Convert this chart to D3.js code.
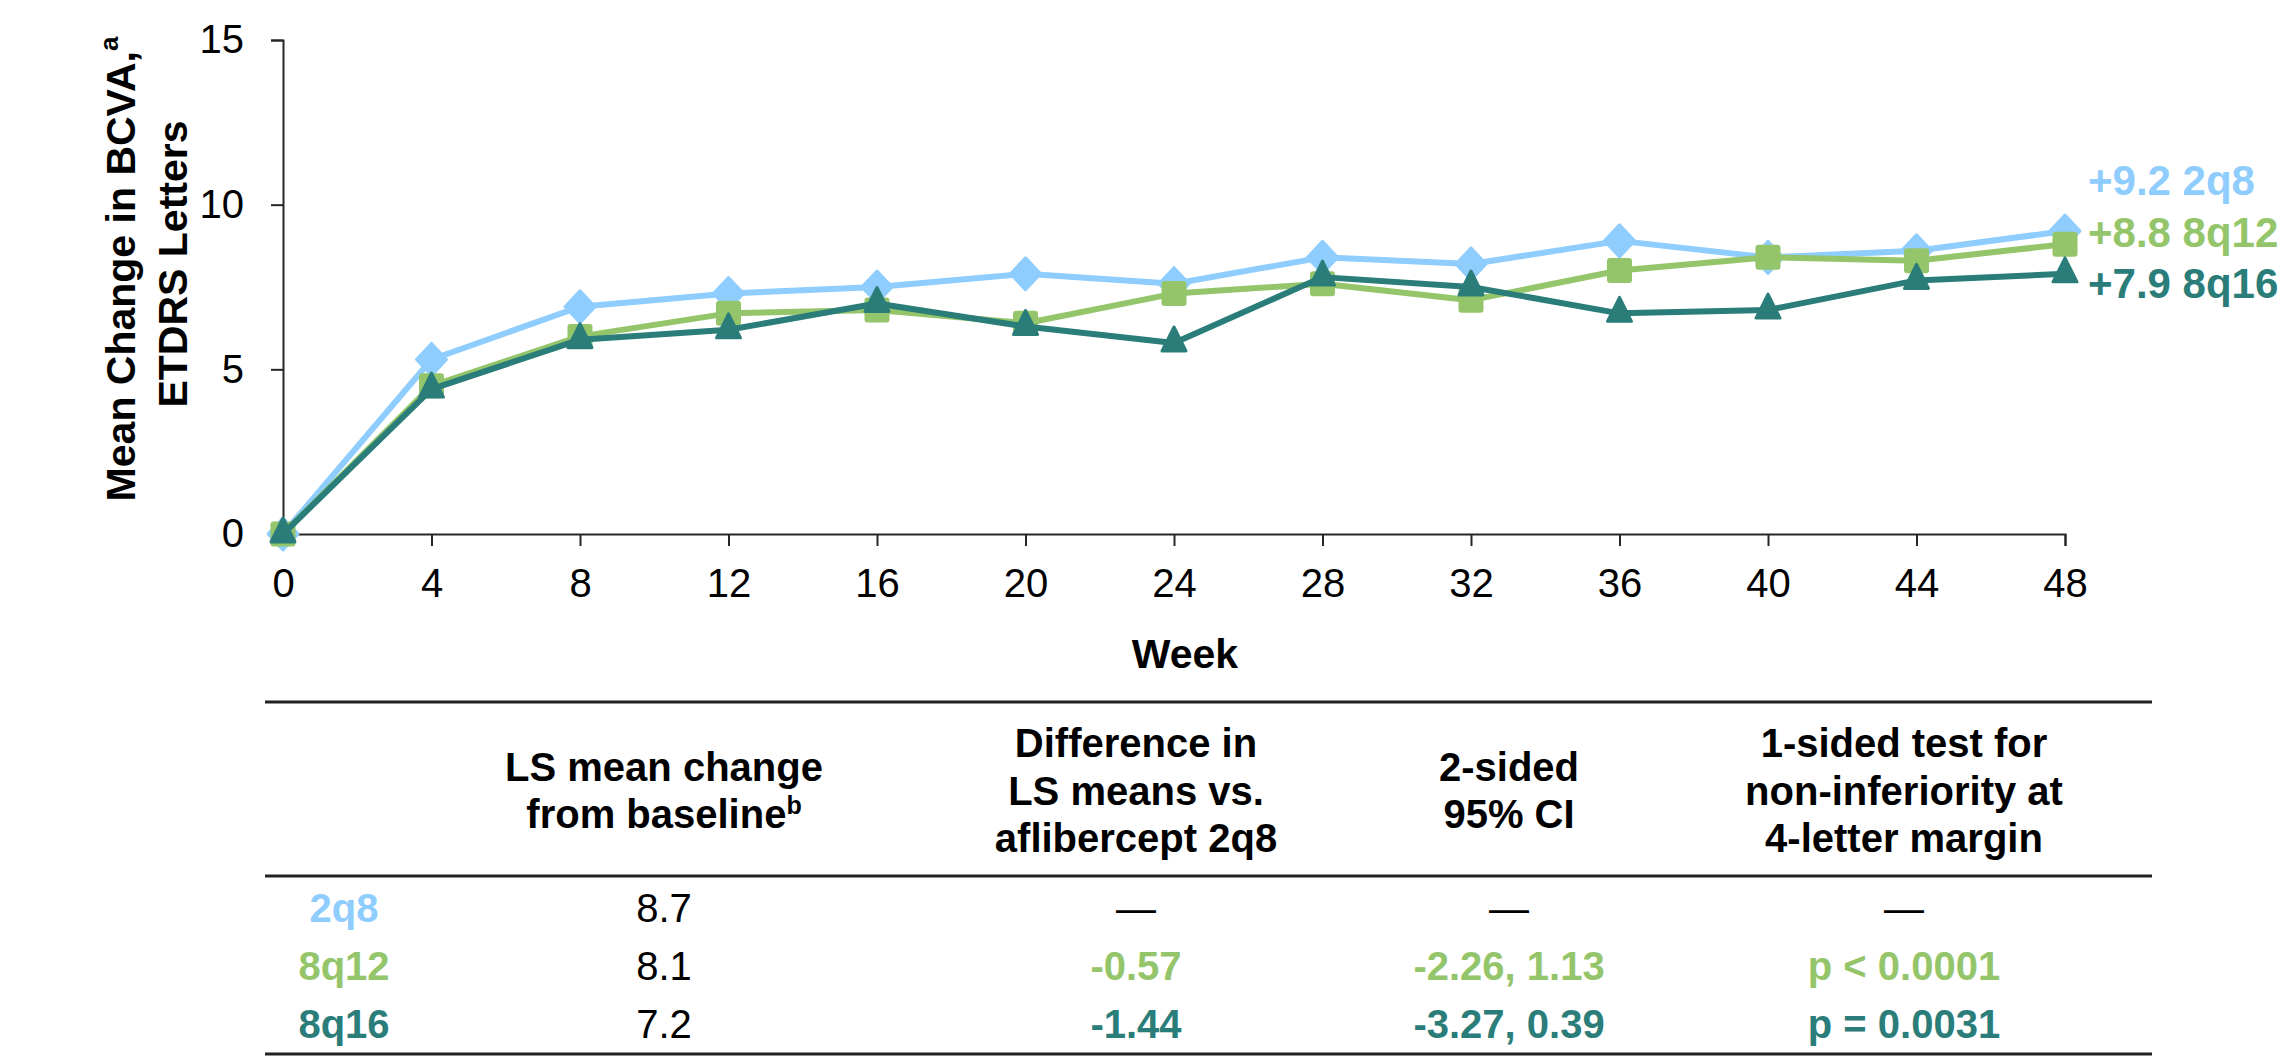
<!DOCTYPE html>
<html>
<head>
<meta charset="utf-8">
<script src="https://cdn.jsdelivr.net/npm/d3@7"></script>
<style>
  body { margin: 0; background: #ffffff; }
  svg { display: block; font-family: "Liberation Sans", Arial, Helvetica, sans-serif; }
</style>
</head>
<body>
<svg id="chart" width="2283" height="1063"></svg>
<script>
// ---- data ----
const weeks = [0, 4, 8, 12, 16, 20, 24, 28, 32, 36, 40, 44, 48];
const seriesNames = ["2q8", "8q12", "8q16"];
const values2q8  = [0, 5.3, 6.9, 7.3, 7.5, 7.9, 7.6, 8.4, 8.2, 8.9, 8.4, 8.6, 9.2];
const values8q12 = [0, 4.5, 6.0, 6.7, 6.8, 6.4, 7.3, 7.6, 7.1, 8.0, 8.4, 8.3, 8.8];
const values8q16 = [0, 4.4, 5.9, 6.2, 7.0, 6.3, 5.8, 7.8, 7.5, 6.7, 6.8, 7.7, 7.9];
const xTicks = [0, 4, 8, 12, 16, 20, 24, 28, 32, 36, 40, 44, 48];
const yTicks = [0, 5, 10, 15];

const tableRowLabels = ["2q8", "8q12", "8q16"];
const lsMeanChange   = ["8.7", "8.1", "7.2"];
const diffVs2q8      = ["\u2014", "-0.57", "-1.44"];
const ci95           = ["\u2014", "-2.26, 1.13", "-3.27, 0.39"];
const nonInferiority = ["\u2014", "p < 0.0001", "p = 0.0031"];

// ---- styling ----
const colors = { "2q8": "#8ecdfd", "8q12": "#94c56b", "8q16": "#2a7d79" };
const markers = { "2q8": "diamond", "8q12": "square", "8q16": "triangle" };
const axisColor = "#262626";

const svg = d3.select("#chart");
svg.append("rect").attr("width", 2283).attr("height", 1063).attr("fill", "#fff");

const x = d3.scaleLinear().domain([0, 48]).range([283, 2065]);
const y = d3.scaleLinear().domain([0, 15]).range([534, 40]);

// ---- axes ----
const gx = svg.append("g").attr("transform", `translate(0,${y(0)})`)
  .call(d3.axisBottom(x).tickValues(xTicks).tickSize(12).tickSizeOuter(12).tickPadding(23));
const gy = svg.append("g").attr("transform", `translate(${x(0)},0)`)
  .call(d3.axisLeft(y).tickValues(yTicks).tickSize(12).tickSizeOuter(12).tickPadding(27));

[gx, gy].forEach(g => {
  g.select(".domain").attr("stroke", axisColor).attr("stroke-width", 2);
  g.selectAll(".tick line").attr("stroke", axisColor).attr("stroke-width", 2);
  g.selectAll(".tick text").attr("font-size", 40).attr("fill", "#000")
    .attr("font-family", "Liberation Sans, Arial, sans-serif");
});

// axis titles
svg.append("text").attr("x", 1185).attr("y", 668).attr("text-anchor", "middle")
  .attr("font-size", 41).attr("font-weight", "bold").attr("fill", "#000").text("Week");

const yt1 = svg.append("text").attr("transform", "translate(135,269) rotate(-90)")
  .attr("text-anchor", "middle").attr("font-size", 41).attr("font-weight", "bold").attr("fill", "#000");
yt1.append("tspan").text("Mean Change in BCVA,");
yt1.append("tspan").attr("font-size", 26).attr("dy", -17).text("a");
svg.append("text").attr("transform", "translate(187,264) rotate(-90)")
  .attr("text-anchor", "middle").attr("font-size", 41).attr("font-weight", "bold").attr("fill", "#000")
  .text("ETDRS Letters");

// ---- series ----
const seriesValues = [values2q8, values8q12, values8q16];
const line = d3.line().x(d => x(d.week)).y(d => y(d.value));

function markerPath(type, cx, cy) {
  if (type === "diamond") {
    return `M${cx},${cy - 16}L${cx + 15},${cy}L${cx},${cy + 16}L${cx - 15},${cy}Z`;
  }
  if (type === "triangle") {
    return `M${cx},${cy - 16}L${cx + 12},${cy + 8}L${cx - 12},${cy + 8}Z`;
  }
  return null;
}

seriesNames.forEach((name, i) => {
  const pts = weeks.map((w, j) => ({ week: w, value: seriesValues[i][j] }));
  const g = svg.append("g").attr("class", "series");
  g.append("path").datum(pts).attr("d", line)
    .attr("fill", "none").attr("stroke", colors[name]).attr("stroke-width", 6)
    .attr("stroke-linejoin", "round");
  if (markers[name] === "square") {
    g.selectAll("rect").data(pts).join("rect")
      .attr("x", d => x(d.week) - 12.5).attr("y", d => y(d.value) - 12.5)
      .attr("width", 25).attr("height", 25).attr("rx", 3)
      .attr("fill", colors[name]);
  } else {
    g.selectAll("path.mk").data(pts).join("path").attr("class", "mk")
      .attr("d", d => markerPath(markers[name], x(d.week), y(d.value)))
      .attr("fill", colors[name]).attr("stroke", colors[name])
      .attr("stroke-width", 3).attr("stroke-linejoin", "round");
  }
});

// end-of-line value labels
const endLabelY = [195, 247, 298];
seriesNames.forEach((name, i) => {
  const last = seriesValues[i][seriesValues[i].length - 1];
  svg.append("text").attr("x", x(48) + 23).attr("y", endLabelY[i])
    .attr("font-size", 42).attr("font-weight", "bold").attr("fill", colors[name])
    .text(`+${d3.format(".1f")(last)} ${name}`);
});

// ---- summary table ----
const tableLeft = 265, tableRight = 2152;
[702, 876, 1054].forEach(yy => {
  svg.append("line").attr("x1", tableLeft).attr("x2", tableRight)
    .attr("y1", yy).attr("y2", yy).attr("stroke", "#222").attr("stroke-width", 3);
});

const colCenters = [344, 664, 1136, 1509, 1904];
const headers = [
  [],
  [["LS mean change"], ["from baseline", "b"]],
  [["Difference in"], ["LS means vs."], ["aflibercept 2q8"]],
  [["2-sided"], ["95% CI"]],
  [["1-sided test for"], ["non-inferiority at"], ["4-letter margin"]]
];
const headerMid = 804.5, headerLineH = 47.5;
headers.forEach((lines, c) => {
  lines.forEach((parts, k) => {
    const yy = headerMid + (k - (lines.length - 1) / 2) * headerLineH;
    const t = svg.append("text").attr("x", colCenters[c]).attr("y", yy)
      .attr("text-anchor", "middle").attr("font-size", 40).attr("font-weight", "bold").attr("fill", "#000");
    t.append("tspan").text(parts[0]);
    if (parts[1]) t.append("tspan").attr("font-size", 25).attr("dy", -14).text(parts[1]);
  });
});

const rowBaselines = [922, 980, 1038];
tableRowLabels.forEach((name, r) => {
  const yy = rowBaselines[r];
  svg.append("text").attr("x", colCenters[0]).attr("y", yy).attr("text-anchor", "middle")
    .attr("font-size", 40).attr("font-weight", "bold").attr("fill", colors[name]).text(name);
  svg.append("text").attr("x", colCenters[1]).attr("y", yy).attr("text-anchor", "middle")
    .attr("font-size", 40).attr("fill", "#000").text(lsMeanChange[r]);
  [diffVs2q8, ci95, nonInferiority].forEach((col, c) => {
    const v = col[r];
    const isDash = v === "\u2014";
    svg.append("text").attr("x", colCenters[c + 2]).attr("y", yy).attr("text-anchor", "middle")
      .attr("font-size", 40).attr("font-weight", isDash ? "normal" : "bold")
      .attr("fill", isDash ? "#000" : colors[name]).text(v);
  });
});
</script>
</body>
</html>
